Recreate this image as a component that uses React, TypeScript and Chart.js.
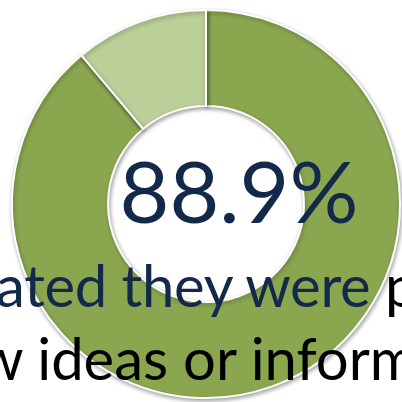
import React, { useEffect, useRef } from "react";
import { Chart, registerables } from "chart.js";

Chart.register(...registerables);

const categories: string[] = ["Yes", "No"];
const shares: number[] = [88.9, 11.1];
const sliceColors: string[] = ["#8AA750", "#BBCF98"];
const bigLabel = "88.9%";
const line2Navy = "ated they were";
const line2Black = " p";
const line3 = "w ideas or inform";

const shadowPlugin = {
  id: "ringShadow",
  beforeDatasetsDraw(chart: any) {
    const ctx = chart.ctx;
    ctx.save();
    ctx.shadowColor = "rgba(0,0,0,0.35)";
    ctx.shadowBlur = 4;
    ctx.shadowOffsetX = 1;
    ctx.shadowOffsetY = 2;
  },
  afterDatasetsDraw(chart: any) {
    chart.ctx.restore();
  },
};

export default function App() {
  const ref = useRef<HTMLCanvasElement | null>(null);
  useEffect(() => {
    if (!ref.current) return;
    const chart = new Chart(ref.current, {
      type: "doughnut",
      data: {
        labels: categories,
        datasets: [
          {
            data: shares,
            backgroundColor: sliceColors,
            borderColor: "#ffffff",
            borderWidth: 2,
          },
        ],
      },
      options: {
        responsive: false,
        animation: false,
        events: [],
        cutout: "50.5%",
        rotation: 0,
        layout: { padding: { left: 11, top: 9, right: 1, bottom: 3 } },
        plugins: { legend: { display: false }, tooltip: { enabled: false } },
      },
      plugins: [shadowPlugin],
    });
    return () => chart.destroy();
  }, []);

  const navy = "#12294A";
  const font = "Lato, 'Open Sans', sans-serif";
  return (
    <div
      style={{
        position: "fixed",
        left: 0,
        top: 0,
        width: 402,
        height: 402,
        overflow: "hidden",
        background: "#fff",
      }}
    >
      <canvas ref={ref} width={402} height={402} style={{ position: "absolute", left: 0, top: 0 }} />
      <div
        style={{
          position: "absolute",
          left: 239,
          top: 147,
          transform: "translateX(-50%)",
          fontFamily: font,
          fontSize: 86,
          lineHeight: 1,
          color: navy,
          whiteSpace: "nowrap",
        }}
      >
        {bigLabel}
      </div>
      <div
        style={{
          position: "absolute",
          left: -4,
          top: 256,
          fontFamily: font,
          fontSize: 58,
          lineHeight: 1,
          letterSpacing: -0.3,
          whiteSpace: "nowrap",
        }}
      >
        <span style={{ color: navy }}>{line2Navy}</span>
        <span style={{ color: "#000" }}>{line2Black}</span>
      </div>
      <div
        style={{
          position: "absolute",
          left: -22,
          top: 329,
          fontFamily: font,
          fontSize: 58,
          lineHeight: 1,
          color: "#000",
          whiteSpace: "nowrap",
        }}
      >
        {line3}
      </div>
    </div>
  );
}
